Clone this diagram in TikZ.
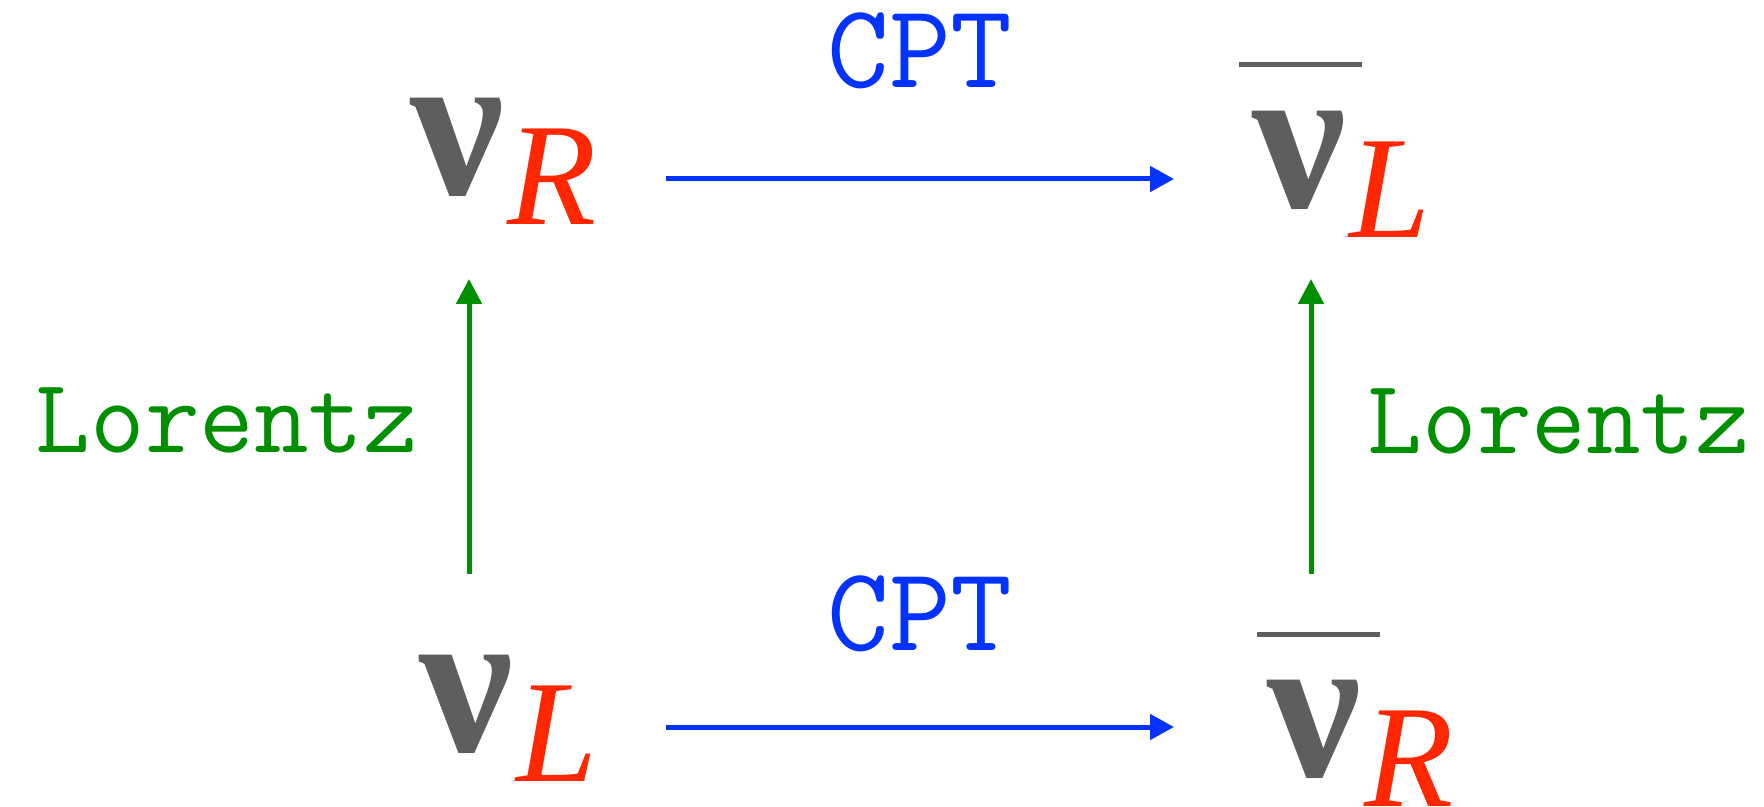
\documentclass[tikz,border=0pt]{standalone}
\usepackage{fontspec}
\setmainfont{Liberation Serif}
\usetikzlibrary{arrows.meta}
\definecolor{nugray}{HTML}{5E5E5E}
\definecolor{subred}{HTML}{FF2600}
\definecolor{cptblue}{HTML}{0433FF}
\definecolor{lorgreen}{HTML}{008F00}
\newcommand{\nug}{{\fontsize{105}{110}\selectfont\bfseries\color{nugray}ν}}
\newcommand{\subx}[1]{\raisebox{-15pt}{\fontsize{73}{80}\selectfont\itshape\color{subred}#1}}
\tikzset{
  particle/.style={inner sep=0pt, outer sep=0pt, anchor=base west},
  cptlabel/.style={inner sep=0pt, anchor=base, text=cptblue, font=\fontsize{60}{66}\selectfont\ttfamily},
  lorlabel/.style={inner sep=0pt, anchor=base, text=lorgreen, font=\fontsize{53}{60}\selectfont\ttfamily},
  cptarrow/.style={draw=cptblue, line width=2.5pt, -{Triangle[length=12pt,width=12.5pt]}},
  lorarrow/.style={draw=lorgreen, line width=2.5pt, -{Triangle[length=12.5pt,width=12.5pt]}},
  barline/.style={draw=nugray, line width=2.5pt}
}
\begin{document}
\begin{tikzpicture}[x=0.5pt,y=-0.5pt]
\useasboundingbox (0,0) rectangle (1764,807);
% particles
\node[particle] (nuRtop) at (410,195) {\nug\hspace{2pt}\subx{R}};
\node[particle] (nuLbar) at (1252,208) {\nug\hspace{2pt}\subx{L}};
\node[particle] (nuL) at (419,751) {\nug\hspace{2pt}\subx{L}};
\node[particle] (nuRbar) at (1267,776) {\nug\hspace{2pt}\subx{R}};
% bars
\draw[barline] (1239,65) -- (1362,65);
\draw[barline] (1257,634) -- (1380,634);
% labels
\node[cptlabel] (cpt1) at (920,88) {CPT};
\node[cptlabel] (cpt2) at (920,650) {CPT};
\node[lorlabel] (lor1) at (227,452) {Lorentz};
\node[lorlabel] (lor2) at (1559,453) {Lorentz};
% arrow ends
\coordinate (a1s) at (666,179);
\coordinate (a1e) at (1174,179);
\coordinate (a2s) at (666,727);
\coordinate (a2e) at (1174,727);
\coordinate (v1s) at (469,574);
\coordinate (v1e) at (469,279);
\coordinate (v2s) at (1311,574);
\coordinate (v2e) at (1311,279);
\draw[cptarrow] (a1s) -- (a1e);
\draw[cptarrow] (a2s) -- (a2e);
\draw[lorarrow] (v1s) -- (v1e);
\draw[lorarrow] (v2s) -- (v2e);
\end{tikzpicture}
\end{document}
